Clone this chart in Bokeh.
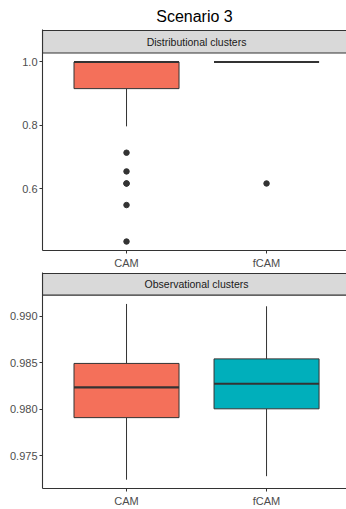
from bokeh.plotting import figure
from bokeh.layouts import column
from bokeh.models import Range1d, FixedTicker, PrintfTickFormatter
from bokeh.core.properties import value
from bokeh.embed import file_html
from bokeh.resources import INLINE

title_text = "Scenario 3"
methods = ["CAM", "fCAM"]
colors = ["#F4705A", "#00AFBB"]

# Distributional clusters
dist_title = "Distributional clusters"
dist_lower = [0.797, 1.0]
dist_q1 = [0.916, 1.0]
dist_median = [1.0, 1.0]
dist_q3 = [1.0, 1.0]
dist_upper = [1.0, 1.0]
dist_outliers_cam = [0.714, 0.655, 0.617, 0.617, 0.549, 0.434]
dist_outliers_fcam = [0.617]
dist_ticks = [0.6, 0.8, 1.0]

# Observational clusters
obs_title = "Observational clusters"
obs_lower = [0.9724, 0.97278]
obs_q1 = [0.97909, 0.98004]
obs_median = [0.98236, 0.98274]
obs_q3 = [0.98493, 0.98542]
obs_upper = [0.99134, 0.99109]
obs_outliers_cam = []
obs_outliers_fcam = []
obs_ticks = [0.975, 0.980, 0.985, 0.990]

FONT = "Liberation Sans"
DARK = "#333333"


def panel(height, top_border, bottom_border, strip_label, lower, q1, med, q3, upper,
          out_cam, out_fcam, ticks, fmt, title=None, label_standoff=3, label_lh=1.2):
    allv = lower + upper + out_cam + out_fcam
    lo, hi = min(allv), max(allv)
    pad = (hi - lo) * 0.05
    ymin, ymax = lo - pad, hi + pad
    frame_h = height - top_border - bottom_border
    strip_px = 22.5
    unit_per_px = (ymax - ymin) / (frame_h - strip_px - 1)
    strip_top = ymax + strip_px * unit_per_px
    yend = strip_top + 1 * unit_per_px

    p = figure(width=346, height=height, output_backend="svg", toolbar_location=None,
               x_range=Range1d(0.4, 2.571), y_range=Range1d(ymin, yend),
               min_border_left=42, min_border_right=0,
               min_border_top=top_border, min_border_bottom=bottom_border)
    if title:
        p.title.text = title
        p.title.align = "center"
        p.title.text_font = FONT
        p.title.text_font_size = "16px"
        p.title.text_font_style = "normal"
        p.title.text_color = "#000000"
        p.title.standoff = 9
    p.background_fill_color = "white"
    p.border_fill_color = "white"
    p.outline_line_color = None
    p.xgrid.visible = False
    p.ygrid.visible = False

    xs = [1, 2]
    w = 0.75
    p.segment(x0=xs, y0=q3, x1=xs, y1=upper, line_color=DARK, line_width=1)
    p.segment(x0=xs, y0=q1, x1=xs, y1=lower, line_color=DARK, line_width=1)
    p.quad(left=[x - w / 2 for x in xs], right=[x + w / 2 for x in xs],
           bottom=q1, top=q3, fill_color=colors, line_color=DARK, line_width=1)
    p.segment(x0=[x - w / 2 for x in xs], y0=med, x1=[x + w / 2 for x in xs], y1=med,
              line_color=DARK, line_width=2.2)
    ox = [1] * len(out_cam) + [2] * len(out_fcam)
    oy = out_cam + out_fcam
    if oy:
        p.scatter(x=ox, y=oy, size=5.5, fill_color=DARK, line_color=DARK)

    p.quad(left=[0.4], right=[2.571 + 0.05], bottom=[ymax], top=[strip_top],
           fill_color="#D9D9D9", line_color=DARK, line_width=1.1)
    p.text(x=[1.5], y=[(ymax + strip_top) / 2], text=[strip_label],
           text_font=value(FONT), text_align="center",
           text_baseline="middle", text_font_size="10.5px", text_color="#1A1A1A")

    p.yaxis.ticker = FixedTicker(ticks=ticks)
    p.yaxis.formatter = PrintfTickFormatter(format=fmt)
    p.xaxis.ticker = FixedTicker(ticks=xs)
    p.xaxis.major_label_overrides = {1: methods[0], 2: methods[1]}
    for ax in (p.xaxis, p.yaxis):
        ax.axis_line_color = DARK
        ax.axis_line_width = 1.1
        ax.major_tick_line_color = DARK
        ax.major_tick_out = 3
        ax.major_tick_in = 0
        ax.minor_tick_line_color = None
        ax.major_label_text_font = FONT
        ax.major_label_text_font_size = "11px"
        ax.major_label_text_color = "#4D4D4D"
        ax.major_label_standoff = 2
    p.xaxis.major_label_standoff = label_standoff
    p.xaxis.major_label_text_line_height = label_lh
    return p


p1 = panel(271, 29, 21, dist_title, dist_lower, dist_q1, dist_median, dist_q3, dist_upper,
           dist_outliers_cam, dist_outliers_fcam, dist_ticks, "%.1f", title=title_text,
           label_standoff=3)
p2 = panel(238, 1, 13, obs_title, obs_lower, obs_q1, obs_median, obs_q3, obs_upper,
           obs_outliers_cam, obs_outliers_fcam, obs_ticks, "%.3f",
           label_standoff=3, label_lh=0.7)

layout = column(p1, p2, spacing=0)
open("out.html", "w").write(file_html(layout, INLINE))
